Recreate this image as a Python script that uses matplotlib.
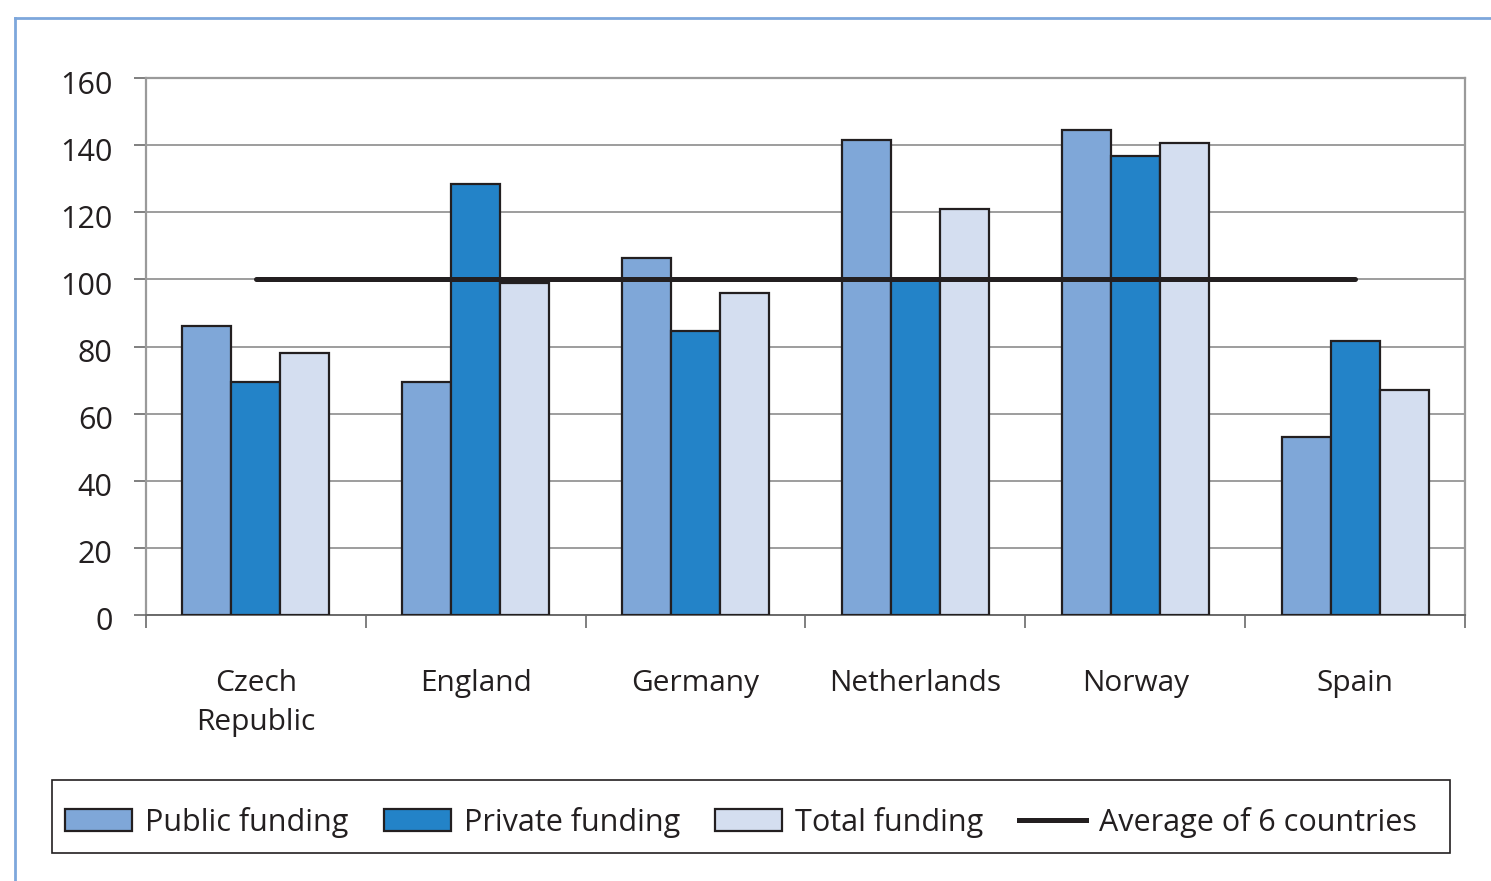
import matplotlib
matplotlib.use("Agg")
import matplotlib.pyplot as plt
import matplotlib.transforms as mtransforms
import numpy as np
from matplotlib.lines import Line2D
from matplotlib.patches import Rectangle

plt.rcParams['font.family'] = ['Open Sans', 'DejaVu Sans']

categories = ["Czech\nRepublic", "England", "Germany", "Netherlands", "Norway", "Spain"]
public_funding = [86, 69.5, 106.5, 141.5, 144.5, 53]
private_funding = [69.5, 128.5, 84.5, 100, 136.8, 81.5]
total_funding = [78, 99, 96, 121, 140.7, 67]
average = [100, 100, 100, 100, 100, 100]
yticks = [0, 20, 40, 60, 80, 100, 120, 140, 160]

c_pub = "#7FA7D8"
c_priv = "#2383C8"
c_tot = "#D4DEF0"
edge = "#231F20"

fig = plt.figure(figsize=(14.91, 8.81), dpi=100)
ax = fig.add_axes([146/1491, 1-615/881, (1465-146)/1491, (615-78)/881])

x = np.arange(len(categories))
w = 0.223
ax.bar(x - w, public_funding, w, color=c_pub, edgecolor=edge, linewidth=1.6, label="Public funding", zorder=3)
ax.bar(x, private_funding, w, color=c_priv, edgecolor=edge, linewidth=1.6, label="Private funding", zorder=3)
ax.bar(x + w, total_funding, w, color=c_tot, edgecolor=edge, linewidth=1.6, label="Total funding", zorder=3)
ax.plot(x, average, color=edge, linewidth=3.6, label="Average of 6 countries", zorder=4, solid_capstyle='round')

ax.set_xlim(-0.5, len(categories) - 0.5)
ax.set_ylim(0, 160)
ax.set_yticks(yticks)
ax.yaxis.grid(True, color="#8C8C8C", linewidth=1.2, zorder=0)
ax.set_axisbelow(True)
for s in ["top", "right", "left"]:
    ax.spines[s].set_color("#9A9A9A")
    ax.spines[s].set_linewidth(1.6)
ax.spines["bottom"].set_color("#6A6A6A")
ax.spines["bottom"].set_linewidth(1.4)

ax.set_xticks(np.arange(-0.5, len(categories), 1.0), minor=False)
ax.set_xticklabels([])
ax.set_xticks(x, minor=True)
ax.set_xticklabels(categories, minor=True, fontsize=21.5, color=edge, linespacing=1.45)
ax.tick_params(axis='x', which='major', length=9, width=1.2, color="#6A6A6A", direction='out')
ax.tick_params(axis='x', which='minor', length=0, pad=39)
ax.tick_params(axis='y', length=9, width=1.2, color="#6A6A6A", direction='out', pad=15, labelsize=22, labelcolor=edge)
offset = mtransforms.ScaledTranslation(0, -4/100, fig.dpi_scale_trans)
for lbl in ax.get_yticklabels():
    lbl.set_transform(lbl.get_transform() + offset)

# legend
handles = [
    Rectangle((0, 0), 1, 1, facecolor=c_pub, edgecolor=edge, linewidth=1.6),
    Rectangle((0, 0), 1, 1, facecolor=c_priv, edgecolor=edge, linewidth=1.6),
    Rectangle((0, 0), 1, 1, facecolor=c_tot, edgecolor=edge, linewidth=1.6),
    Line2D([0], [0], color=edge, linewidth=3.6),
]
labels = ["Public funding", "Private funding", "Total funding", "Average of 6 countries"]
leg = fig.legend(handles, labels, loc="center left", ncol=4,
                 bbox_to_anchor=(56/1491, 1-822/881),
                 fontsize=22, frameon=False,
                 handlelength=2.2, handleheight=0.75, handletextpad=0.42,
                 columnspacing=1.15, borderaxespad=0, borderpad=0.3)
for t in leg.get_texts():
    t.set_color(edge)
fig.add_artist(Rectangle((52/1491, 1-853/881), 1398/1491, 73/881, transform=fig.transFigure,
                         fill=False, edgecolor=edge, linewidth=1.2))

# blue frame
fig.add_artist(Line2D([15/1491, 1.0], [1-18/881, 1-18/881], transform=fig.transFigure, color="#7DA7DC", linewidth=2))
fig.add_artist(Line2D([15/1491, 15/1491], [1-18/881, 0], transform=fig.transFigure, color="#7DA7DC", linewidth=2))

fig.savefig("out.png", dpi=100)
